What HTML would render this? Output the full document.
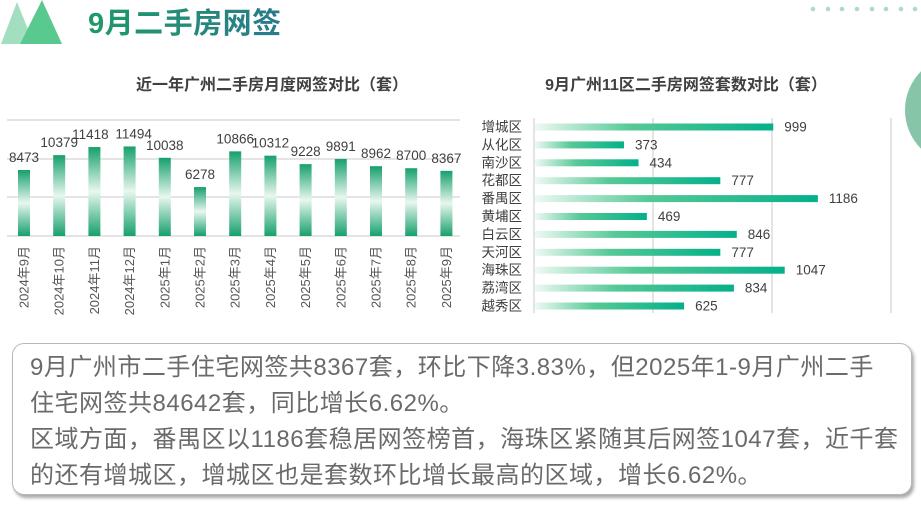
<!DOCTYPE html>
<html><head><meta charset="utf-8"><style>
body{margin:0;width:921px;height:506px;background:#fff;overflow:hidden;position:relative;font-family:"Liberation Sans","Noto Sans CJK SC",sans-serif;}
.title{position:absolute;left:88px;top:0px;font-size:29px;font-weight:bold;background:linear-gradient(90deg,#1f9b66,#2a7a8c);-webkit-background-clip:text;color:transparent;letter-spacing:0.5px}
.box{position:absolute;left:12px;top:343px;width:898px;height:150px;border:1.5px solid #b8b8b8;border-radius:12px;box-shadow:2px 3px 3px #aaa;background:#fff}
.box p{margin:0;position:absolute;left:17px;top:6px;font-size:24px;line-height:36px;color:#6a6a6a;letter-spacing:0.5px;white-space:nowrap}
</style></head><body>
<svg width="921" height="506" style="position:absolute;left:0;top:0">
<defs>
<linearGradient id="vb" x1="0" y1="0" x2="0" y2="1">
<stop offset="0" stop-color="#16a06c"/><stop offset="0.5" stop-color="#e8f7ef"/><stop offset="1" stop-color="#16a06c"/></linearGradient>
<linearGradient id="hb" x1="0" y1="0" x2="1" y2="0">
<stop offset="0" stop-color="#eef9f3"/><stop offset="0.4" stop-color="#56c996"/><stop offset="1" stop-color="#04b08a"/></linearGradient>
</defs>
<polygon points="1,44 17,2 34,44" fill="#a2dfc1"/>
<polygon points="20,44 42,0 62,44" fill="#5ac98f"/>
<g fill="#a9dccb">
<circle cx="813" cy="9" r="2.3"/><circle cx="828" cy="9" r="2.3"/><circle cx="842" cy="9" r="2.3"/><circle cx="857" cy="9" r="2.3"/><circle cx="872" cy="9" r="2.3"/><circle cx="886" cy="9" r="2.3"/><circle cx="901" cy="9" r="2.3"/><circle cx="915" cy="9" r="2.3"/>
</g>
<circle cx="960" cy="110" r="55" fill="#86c5a8"/>
<text x="272" y="90" font-size="16" font-weight="bold" fill="#404040" text-anchor="middle">近一年广州二手房月度网签对比（套）</text>
<text x="686" y="90" font-size="16" font-weight="bold" fill="#404040" text-anchor="middle">9月广州11区二手房网签套数对比（套）</text>
<g stroke="#dcdcdc" stroke-width="1.5">
<line x1="7" y1="120" x2="460" y2="120"/><line x1="7" y1="159" x2="460" y2="159"/><line x1="7" y1="197" x2="460" y2="197"/><line x1="7" y1="236" x2="460" y2="236"/>
<line x1="534" y1="118" x2="534" y2="313"/><line x1="653" y1="118" x2="653" y2="313"/><line x1="772" y1="118" x2="772" y2="313"/><line x1="891" y1="118" x2="891" y2="313"/>
</g>
<g id="vbars" font-size="13.5" fill="#404040" text-anchor="middle"></g>
<g id="hbars" font-size="13.5" fill="#404040"></g>
</svg>
<div class="title">9月二手房网签</div>
<div class="box"><p>9月广州市二手住宅网签共8367套，环比下降3.83%，但2025年1-9月广州二手<br>住宅网签共84642套，同比增长6.62%。<br>区域方面，番禺区以1186套稳居网签榜首，海珠区紧随其后网签1047套，近千套<br>的还有增城区，增城区也是套数环比增长最高的区域，增长6.62%。</p></div>
<script>
var ns="http://www.w3.org/2000/svg";
function el(t,a,txt){var e=document.createElementNS(ns,t);for(var k in a)e.setAttribute(k,a[k]);if(txt)e.textContent=txt;return e;}
var v=[8473,10379,11418,11494,10038,6278,10866,10312,9228,9891,8962,8700,8367];
var lb=["2024年9月","2024年10月","2024年11月","2024年12月","2025年1月","2025年2月","2025年3月","2025年4月","2025年5月","2025年6月","2025年7月","2025年8月","2025年9月"];
var g=document.getElementById("vbars");
v.forEach(function(d,i){var cx=24+i*35.2,h=d*0.00779,top=236-h;
g.appendChild(el("rect",{x:cx-6,y:top,width:12,height:h,fill:"url(#vb)"}));
var lx=cx; if(i==2)lx=cx-4; if(i==3)lx=cx+4;
g.appendChild(el("text",{x:lx,y:top-8},String(d)));
g.appendChild(el("text",{x:0,y:0,"font-size":"13",fill:"#555","text-anchor":"end",transform:"translate("+(cx+4.5)+",246) rotate(-90)"},lb[i]));});
var names=["增城区","从化区","南沙区","花都区","番禺区","黄埔区","白云区","天河区","海珠区","荔湾区","越秀区"];
var hv=[999,373,434,777,1186,469,846,777,1047,834,625];
var h=document.getElementById("hbars");
hv.forEach(function(d,i){var cy=127+i*17.9,w=d*0.2385;
h.appendChild(el("rect",{x:535,y:cy-3.5,width:w,height:7,fill:"url(#hb)"}));
h.appendChild(el("text",{x:522,y:cy+4.5,"text-anchor":"end"},names[i]));
h.appendChild(el("text",{x:535+w+11,y:cy+4.5},String(d)));});
</script>
</body></html>
